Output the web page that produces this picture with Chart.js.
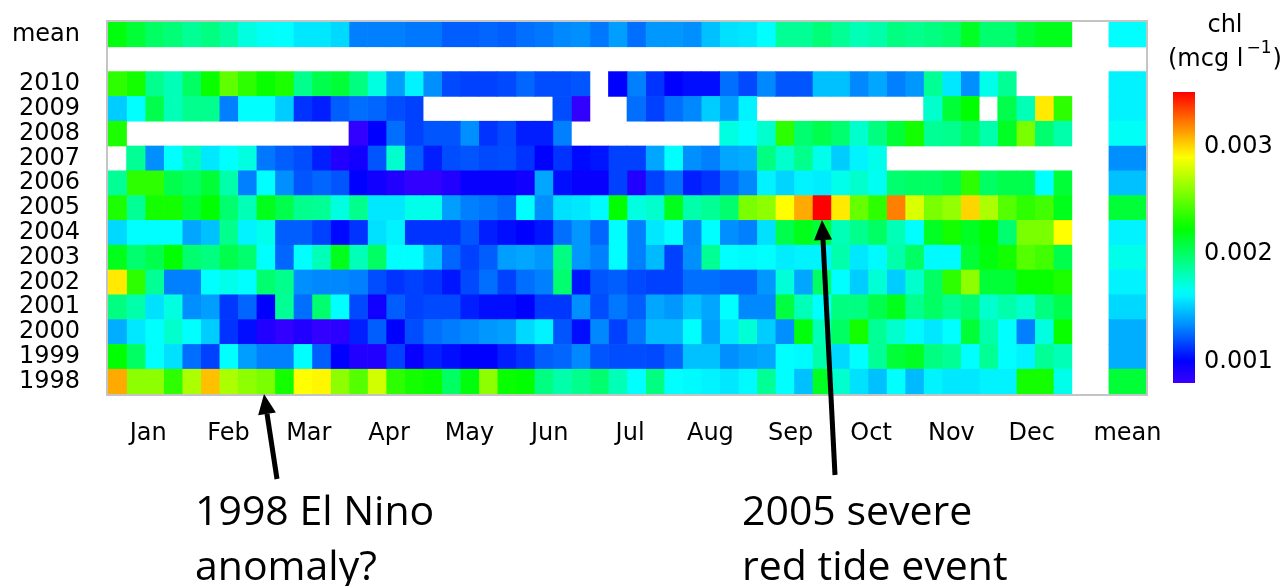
<!DOCTYPE html>
<html>
<head>
<meta charset="utf-8">
<script src="https://cdn.jsdelivr.net/npm/chart.js@4.4.1/dist/chart.umd.min.js"></script>
<style>
  html, body { margin: 0; padding: 0; background: #fff; }
  #wrap { width: 1286px; height: 586px; }
</style>
</head>
<body>
<div id="wrap"><canvas id="heat" width="1286" height="586"></canvas></div>
<script>
// Rows of the heatmap, top to bottom
const rowLabels = ["mean", "", "2010", "2009", "2008", "2007", "2006", "2005",
  "2004", "2003", "2002", "2001", "2000", "1999", "1998"];
const monthLabels = ["Jan", "Feb", "Mar", "Apr", "May", "Jun",
  "Jul", "Aug", "Sep", "Oct", "Nov", "Dec"];

// weekly chl, in units of 0.001 mcg/l (null = no data)
const weeklyMean = [2.2, 2.1, 2.0, 1.95, 1.88, 1.93, 1.85, 1.7, 1.65, 1.63, 1.57, 1.57, 1.53, 1.3, 1.3, 1.3, 1.28, 1.28, 1.22, 1.22,
  1.24, 1.22, 1.26, 1.28, 1.32, 1.34, 1.28, 1.38, 1.26, 1.36, 1.36, 1.34, 1.47, 1.55, 1.57, 1.63, 1.88, 1.88, 1.95, 1.88,
  1.8, 1.83, 1.93, 1.9, 1.93, 1.97, 2.15, 1.97, 1.97, 2.1, 2.17, 2.17];
const chl2010 = [2.35, 2.28, 1.9, 1.8, 2.0, 2.25, 2.48, 2.35, 2.25, 2.3, 1.9, 2.05, 2.1, 1.93, 1.7, 1.38, 1.6, 1.34, 1.17, 1.15,
  1.15, 1.17, 1.24, 1.18, 1.18, 1.2, null, 1.0, 1.3, 1.12, 1.0, 1.03, 1.03, 1.26, 1.17, 1.32, 1.2, 1.2, 1.47, 1.47,
  1.32, 1.4, 1.3, 1.36, 1.88, 1.57, 1.34, 1.68, 1.88, null, null, null];
const chl2009 = [1.5, 1.63, 2.05, 1.8, 1.9, 1.9, 1.3, 1.63, 1.63, 1.5, 1.12, 1.07, 1.22, 1.26, 1.24, 1.18, 1.15, null, null, null,
  null, null, null, null, 1.18, 0.82, null, null, 1.26, 1.15, 1.26, 1.32, 1.5, 1.38, 1.6, null, null, null, null, null,
  null, null, null, null, 1.75, 2.1, 2.23, null, 2.05, 1.8, 2.95, 2.35];
const chl2008 = [2.3, null, null, null, null, null, null, null, null, null, null, null, null, 0.82, 1.0, 1.26, 1.15, 1.2, 1.2, 1.34,
  1.12, 1.17, 1.07, 1.07, 1.3, null, null, null, null, null, null, null, null, 1.7, 1.63, 1.75, 2.35, 1.97, 2.05, 1.97,
  1.75, 1.93, 2.1, 2.28, 1.88, 1.9, 2.0, 1.83, 2.15, 2.55, 1.97, 1.83];
const chl2007 = [null, 1.88, 1.34, 1.63, 1.8, 1.57, 1.63, 1.7, 1.28, 1.22, 1.18, 1.07, 0.88, 0.94, 1.2, 1.75, 1.22, 1.07, 1.18, 1.2,
  1.17, 1.18, 1.12, 1.0, 1.12, 1.02, 1.05, 1.15, 1.15, 1.4, 1.63, 1.34, 1.3, 1.4, 1.42, 1.93, 1.75, 1.9, 1.68, 1.5,
  1.6, 1.68, null, null, null, null, null, null, null, null, null, null];
const chl2006 = [1.88, 2.35, 2.35, 2.05, 2.0, 2.1, 1.83, 1.3, 1.63, 1.34, 1.2, 1.24, 1.2, 1.0, 0.94, 0.88, 0.82, 0.82, 0.88, 0.97,
  0.97, 0.97, 0.94, 1.4, 1.03, 0.97, 0.97, 1.15, 0.88, 1.15, 1.26, 1.07, 1.12, 1.24, 1.32, 1.6, 1.52, 1.6, 1.58, 1.68,
  1.75, 1.66, 1.97, 2.0, 2.0, 2.05, 2.35, 2.0, 2.05, 2.05, 1.63, 2.1];
const chl2005 = [2.3, 1.88, 2.28, 2.28, 2.1, 2.23, 1.97, 1.8, 2.17, 2.05, 1.9, 1.88, 1.7, 1.9, 1.57, 1.57, 1.68, 1.68, 1.38, 1.3,
  1.28, 1.24, 1.63, 1.34, 1.55, 1.57, 1.62, 2.23, 1.7, 1.75, 2.17, 1.83, 1.88, 1.97, 2.55, 2.6, 2.9, 3.1, 3.5, 2.95,
  2.5, 2.35, 3.2, 2.8, 2.55, 2.62, 3.0, 2.68, 2.45, 2.35, 2.4, 2.17];
const chl2004 = [1.53, 1.63, 1.63, 1.63, 1.4, 1.47, 1.9, 1.6, 1.68, 1.22, 1.22, 1.15, 1.02, 1.12, 1.55, 1.6, 1.12, 1.12, 1.12, 1.2,
  1.07, 1.03, 1.0, 1.05, 1.26, 1.36, 1.24, 1.63, 1.3, 1.57, 1.63, 1.32, 1.63, 1.34, 1.3, 1.55, 2.05, 2.17, 2.1, 1.8,
  1.9, 2.0, 1.8, 1.63, 2.15, 2.28, 2.15, 2.23, 1.97, 2.55, 2.55, 2.9];
const chl2003 = [2.17, 1.97, 2.05, 2.23, 1.97, 1.93, 2.05, 1.97, 1.63, 1.24, 1.63, 1.8, 2.17, 1.8, 2.0, 1.63, 1.63, 1.47, 1.24, 1.15,
  1.22, 1.38, 1.4, 1.36, 1.93, 1.36, 1.3, 1.63, 1.3, 1.45, 1.15, 1.34, 1.88, 1.63, 1.62, 1.63, 1.58, 1.6, 1.6, 1.83,
  1.57, 1.62, 1.83, 2.0, 1.62, 1.62, 2.1, 2.2, 2.28, 2.45, 2.4, 2.05];
const chl2002 = [2.95, 2.35, 1.88, 1.3, 1.3, 1.63, 1.68, 1.63, 1.97, 1.9, 1.34, 1.32, 1.32, 1.3, 1.18, 1.12, 1.15, 1.12, 1.05, 1.17,
  1.26, 1.15, 1.26, 1.3, 1.97, 1.05, 1.2, 1.22, 1.17, 1.15, 1.15, 1.26, 1.26, 1.24, 1.24, 1.36, 1.72, 1.4, 2.0, 1.63,
  1.5, 1.73, 1.5, 1.75, 2.0, 2.35, 2.6, 2.1, 2.1, 2.25, 2.25, 2.3];
const chl2001 = [1.93, 1.83, 1.55, 1.7, 1.34, 1.38, 1.13, 1.24, 1.0, 1.88, 1.26, 1.97, 1.63, 1.17, 0.94, 1.22, 1.15, 1.17, 1.17, 1.07,
  1.03, 1.03, 1.0, 1.13, 1.13, 1.34, 1.18, 1.28, 1.22, 1.4, 1.36, 1.47, 1.4, 1.63, 1.32, 1.32, 2.08, 1.8, 1.63, 1.93,
  1.93, 2.05, 2.17, 1.9, 2.0, 1.9, 1.97, 1.75, 1.83, 1.75, 1.93, 2.05];
const chl2000 = [1.42, 1.57, 1.63, 1.75, 1.63, 1.5, 1.12, 1.03, 0.88, 0.82, 0.88, 0.82, 0.84, 1.07, 1.22, 1.0, 1.18, 1.26, 1.29, 1.32,
  1.36, 1.38, 1.53, 1.6, 1.2, 1.03, 1.32, 1.15, 1.28, 1.45, 1.45, 1.63, 1.38, 1.57, 1.73, 1.5, 1.34, 2.2, 1.8, 2.0,
  2.28, 1.88, 1.75, 1.62, 1.57, 1.63, 2.1, 1.83, 1.63, 1.3, 1.7, 2.25];
const chl1999 = [2.23, 2.0, 1.63, 1.55, 1.26, 1.15, 1.63, 1.38, 1.3, 1.3, 1.63, 1.22, 1.0, 0.88, 0.88, 1.15, 0.97, 1.07, 1.03, 1.0,
  1.0, 1.07, 1.12, 1.22, 1.24, 1.32, 1.2, 1.18, 1.18, 1.17, 1.24, 1.47, 1.47, 1.34, 1.38, 1.4, 1.63, 1.62, 1.83, 1.53,
  1.63, 1.88, 2.1, 2.15, 1.93, 1.88, 1.63, 1.88, 1.63, 1.6, 1.88, 1.8];
const chl1998 = [3.1, 2.6, 2.6, 2.35, 2.68, 3.05, 2.68, 2.6, 2.55, 2.28, 2.9, 2.92, 2.6, 2.45, 2.78, 2.35, 2.28, 2.25, 2.0, 2.2,
  2.6, 2.25, 2.23, 1.93, 1.83, 1.9, 1.97, 1.8, 1.63, 1.93, 1.63, 1.62, 1.6, 1.57, 1.62, 1.88, 1.63, 1.47, 2.15, 1.75,
  1.55, 1.47, 1.63, 1.45, 1.6, 1.57, 1.57, 1.6, 1.6, 2.28, 2.28, 1.68];
// annual means, same order as rowLabels
const annualMean = [1.63, null, 1.6, 1.6, 1.65, 1.34, 1.47, 2.1, 1.6, 1.68, 1.6, 1.53, 1.42, 1.42, 2.1];
const cbarTicks = [1, 2, 3];

const blankRow = new Array(52).fill(null);
const grid = [weeklyMean, blankRow, chl2010, chl2009, chl2008, chl2007, chl2006, chl2005,
  chl2004, chl2003, chl2002, chl2001, chl2000, chl1999, chl1998];

// jet-like colour scale used by the figure
const colorStops = [
  [0.79, [58, 0, 255]], [1.0, [0, 0, 255]], [1.3, [0, 128, 255]], [1.63, [0, 255, 255]],
  [1.93, [0, 255, 128]], [2.23, [0, 255, 0]], [2.9, [255, 255, 0]], [3.2, [255, 128, 0]], [3.5, [255, 0, 0]],
];

function chlColor(v) {
  if (v <= colorStops[0][0]) return "rgb(" + colorStops[0][1].join(",") + ")";
  for (let i = 1; i < colorStops.length; i++) {
    const [v1, c1] = colorStops[i];
    if (v <= v1) {
      const [v0, c0] = colorStops[i - 1];
      const t = (v - v0) / (v1 - v0);
      const c = c0.map((a, k) => Math.round(a + (c1[k] - a) * t));
      return "rgb(" + c.join(",") + ")";
    }
  }
  return "rgb(255,0,0)";
}

const nWeeks = 52;
const datasets = [];
for (let c = 0; c < nWeeks; c++) {
  datasets.push({
    data: grid.map((row) => (row[c] == null ? null : [c, c + 1])),
    backgroundColor: grid.map((row) => (row[c] == null ? "#fff" : chlColor(row[c]))),
  });
}
// mean column sits after a two-week gap
datasets.push({
  data: annualMean.map((v) => (v == null ? null : [nWeeks + 2, nWeeks + 4])),
  backgroundColor: annualMean.map((v) => (v == null ? "#fff" : chlColor(v))),
});

const xTickPos = monthLabels.map((m, i) => (i + 0.5) * nWeeks / 12).concat([nWeeks + 3]);
const xTickText = monthLabels.concat(["mean"]);

// frame, colour bar and the two notes
const extras = {
  id: "extras",
  afterDraw(chart) {
    const ctx = chart.ctx;
    const a = chart.chartArea;
    ctx.save();
    ctx.strokeStyle = "#c4c4c4";
    ctx.lineWidth = 2;
    ctx.strokeRect(a.left - 1, a.top - 1, a.right - a.left + 2, a.bottom - a.top + 2);

    // colour bar
    const cbX = 1173, cbW = 22, cbTop = 92, cbBot = 383;
    const yOf = (v) => 360.7 - (v - 1) * 107.5;
    const grad = ctx.createLinearGradient(0, cbBot, 0, cbTop);
    const vBot = 1 + (360.7 - cbBot) / 107.5, vTop = 1 + (360.7 - cbTop) / 107.5;
    for (let i = 0; i <= 40; i++) {
      const v = vBot + (vTop - vBot) * i / 40;
      grad.addColorStop(i / 40, chlColor(v));
    }
    ctx.fillStyle = grad;
    ctx.fillRect(cbX, cbTop, cbW, cbBot - cbTop);

    ctx.fillStyle = "#000";
    ctx.font = "24px 'DejaVu Sans'";
    ctx.textAlign = "left";
    ctx.textBaseline = "middle";
    cbarTicks.forEach((t) => ctx.fillText((t / 1000).toFixed(3), 1204, yOf(t) + 1));

    ctx.font = "24px 'DejaVu Sans'";
    ctx.textAlign = "center";
    ctx.textBaseline = "alphabetic";
    ctx.fillText("chl", 1225, 32);
    ctx.textAlign = "left";
    const x0 = 1168;
    ctx.fillText("(mcg l", x0, 66);
    const w1 = ctx.measureText("(mcg l").width;
    ctx.font = "17px 'DejaVu Sans'";
    ctx.fillText("\u22121", x0 + w1 + 3, 53);
    const w2 = ctx.measureText("\u22121").width;
    ctx.font = "24px 'DejaVu Sans'";
    ctx.fillText(")", x0 + w1 + 3 + w2 + 1, 66);

    // notes
    ctx.font = "41px 'Open Sans'";
    ctx.fillText("1998 El Nino", 195, 525);
    ctx.fillText("anomaly?", 195, 580);
    ctx.fillText("2005 severe", 742, 525);
    ctx.fillText("red tide event", 742, 580);
    drawArrow(ctx, 277, 479, 264, 394);
    drawArrow(ctx, 835, 475, 822, 220);
    ctx.restore();
  },
};

function drawArrow(ctx, x0, y0, x1, y1) {
  const ang = Math.atan2(y1 - y0, x1 - x0);
  const headLen = 20, headW = 9;
  const bx = x1 - headLen * Math.cos(ang), by = y1 - headLen * Math.sin(ang);
  ctx.strokeStyle = "#000";
  ctx.lineWidth = 5;
  ctx.beginPath();
  ctx.moveTo(x0, y0);
  ctx.lineTo(bx, by);
  ctx.stroke();
  ctx.fillStyle = "#000";
  ctx.beginPath();
  ctx.moveTo(x1, y1);
  ctx.lineTo(bx + headW * Math.sin(ang), by - headW * Math.cos(ang));
  ctx.lineTo(bx - headW * Math.sin(ang), by + headW * Math.cos(ang));
  ctx.closePath();
  ctx.fill();
}

Chart.defaults.font.family = "'DejaVu Sans'";
Chart.defaults.color = "#000";

new Chart(document.getElementById("heat").getContext("2d"), {
  type: "bar",
  data: { labels: rowLabels, datasets: datasets },
  options: {
    indexAxis: "y",
    responsive: false,
    animation: false,
    events: [],
    layout: { padding: { left: 0, right: 140, top: 22, bottom: 0 } },
    datasets: {
      bar: { grouped: false, barPercentage: 1, categoryPercentage: 1, borderWidth: 0 },
    },
    plugins: { legend: { display: false }, tooltip: { enabled: false } },
    scales: {
      x: {
        type: "linear",
        min: 0,
        max: nWeeks + 4,
        grid: { display: false, drawTicks: false },
        border: { display: false },
        afterBuildTicks: (axis) => { axis.ticks = xTickPos.map((v) => ({ value: v })); },
        afterFit: (axis) => { axis.height = 192; },
        ticks: {
          autoSkip: false,
          maxRotation: 0,
          padding: 25,
          font: { size: 24 },
          callback: (v, i) => xTickText[i],
        },
      },
      y: {
        type: "category",
        // hidden tick marks give the label gap (ticks.padding would push the plot down)
        grid: { display: false, drawTicks: true, tickLength: 28 },
        border: { display: false },
        afterFit: (axis) => { axis.width = 108; },
        ticks: { autoSkip: false, padding: 0, font: { size: 24 } },
      },
    },
  },
  plugins: [extras],
});
</script>
</body>
</html>
